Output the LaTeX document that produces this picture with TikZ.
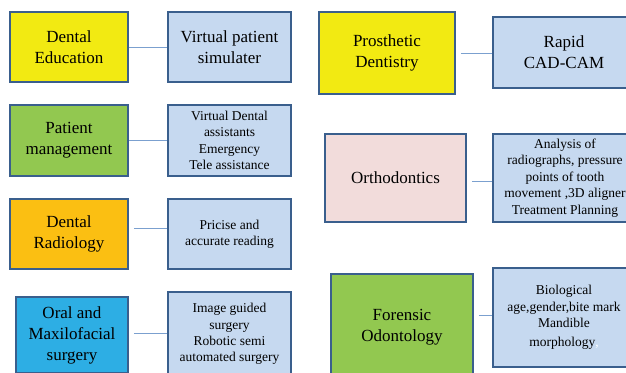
\documentclass[tikz,border=0pt]{standalone}
\usepackage{fontspec}
\setmainfont{Liberation Serif}
\usepackage{xcolor}
\usepackage{tikz}
\usetikzlibrary{calc}
\definecolor{eduyellow}{HTML}{F2EA12}
\definecolor{mgmtgreen}{HTML}{92C850}
\definecolor{radorange}{HTML}{FBBF12}
\definecolor{oralblue}{HTML}{2DAEE4}
\definecolor{orthopink}{HTML}{F2DCDB}
\definecolor{notefill}{HTML}{C6D9F0}
\definecolor{boxline}{HTML}{3A5F8D}
\definecolor{linkline}{HTML}{7BA0CF}
\newcommand{\bigsize}{\rmfamily\fontsize{17}{21}\selectfont}
\newcommand{\smallsize}{\rmfamily\fontsize{13.5}{16.4}\selectfont}

\begin{document}
\begin{tikzpicture}[x=1pt, y=-1pt,
    every node/.style={rectangle, draw=boxline, line width=1.6pt, inner sep=0pt, align=center, text=black},
    bigtext/.style={font=\bigsize},
    field/.style={fill=#1, minimum width=118pt, minimum height=70pt, bigtext},
    note/.style={fill=notefill, minimum width=123pt, minimum height=70pt, font=\smallsize},
    link/.style={draw=linkline, line width=1pt},
    gapline/.style={link, shorten <=5pt}
]
\useasboundingbox (0,0) rectangle (626,372);
\clip (0,0) rectangle (626,372);

% Left column
\node[field=eduyellow] (edu) at (69,47) {Dental\\Education};
\node[field=mgmtgreen, minimum height=71pt] (pat) at (69,140.5) {Patient\\management};
\node[field=radorange] (rad) at (69,234) {Dental\\Radiology};
\node[field=oralblue, minimum width=112pt, minimum height=76pt] (oral) at (72,335) {Oral and\\Maxilofacial\\surgery};

\node[note, bigtext] (sim) at (229.5,47) {Virtual patient\\simulater};
\node[note, minimum height=71pt] (vda) at (229.5,140.5) {Virtual Dental\\assistants\\Emergency\\Tele assistance};
\node[note] (read) at (229.5,234) {Pricise and\\accurate reading};
\node[note, minimum height=84pt] (igs) at (229.5,334) {Image guided\\surgery\\Robotic semi\\automated surgery};

% Right column
\node[field=eduyellow, minimum width=136pt, minimum height=82pt] (pros) at (387,53) {Prosthetic\\Dentistry};
\node[field=orthopink, minimum width=141pt, minimum height=88pt] (orth) at (395.5,178) {Orthodontics};
\node[field=mgmtgreen, minimum width=142pt, minimum height=106pt] (foren) at (402,327) {Forensic\\Odontology};

\node[note, bigtext, minimum width=142pt, minimum height=71pt] (cad) at (564,52.5) {Rapid\\CAD-CAM};
\node[note, minimum width=144pt, minimum height=88pt] (ana) at (565,178) {Analysis of\\radiographs, pressure\\points of tooth\\movement ,3D aligner\\Treatment Planning};
\node[note, minimum width=142pt, minimum height=99pt] (bio) at (564,317.5) {Biological\\age,gender,bite mark\\Mandible\\[3pt]morphology\textcolor{white}{,}};

% Links
\draw[link] (edu.east) -- (sim.west);
\draw[link] (pat.east) -- (vda.west);
\draw[gapline] ([yshift=6pt]rad.east) -- ([yshift=6pt]rad.east -| read.west);
\draw[gapline] ([yshift=2pt]oral.east) -- ([yshift=2pt]oral.east -| igs.west);
\draw[gapline] (pros.east) -- (pros.east -| cad.west);
\draw[gapline] ([yshift=-3pt]orth.east) -- ([yshift=-3pt]orth.east -| ana.west);
\draw[gapline] ([yshift=12pt]foren.east) -- ([yshift=12pt]foren.east -| bio.west);
\end{tikzpicture}
\end{document}
